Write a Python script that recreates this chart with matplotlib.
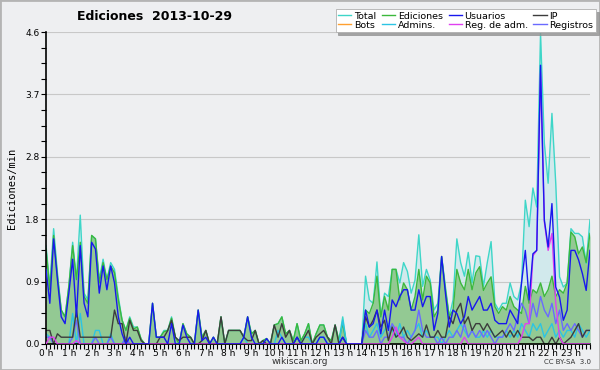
import numpy as np
import matplotlib
matplotlib.use("Agg")
import matplotlib.pyplot as plt
from matplotlib.patches import Rectangle
from matplotlib.ticker import MultipleLocator

# valores cada 10 minutos (ediciones/min), 24 h x 6
total = [
    1.45, 0.85, 1.7, 1.05, 0.5, 0.4,
    0.85, 1.5, 0.95, 1.9, 0.75, 0.65,
    1.6, 1.55, 0.95, 1.25, 0.95, 1.2,
    1.1, 0.7, 0.35, 0.2, 0.4, 0.25,
    0.25, 0.07, 0.0, 0.0, 0.6, 0.1,
    0.1, 0.2, 0.2, 0.4, 0.1, 0.0,
    0.3, 0.15, 0.1, 0.0, 0.5, 0.1,
    0.2, 0.0, 0.1, 0.0, 0.4, 0.0,
    0.2, 0.2, 0.2, 0.2, 0.1, 0.4,
    0.15, 0.2, 0.0, 0.05, 0.08, 0.0,
    0.28, 0.3, 0.4, 0.15, 0.2, 0.05,
    0.3, 0.05, 0.15, 0.3, 0.0, 0.15,
    0.28, 0.28, 0.1, 0.05, 0.28, 0.05,
    0.4, 0.0, 0.0, 0.0, 0.0, 0.0,
    1.0, 0.65, 0.6, 1.21, 0.4, 0.75,
    0.7, 1.1, 1.1, 0.9, 1.2, 1.07,
    0.75, 0.94, 1.61, 0.85, 1.1, 0.94,
    0.5, 0.6, 1.29, 0.85, 0.4, 0.65,
    1.55, 1.2, 1.0, 1.35, 0.9, 1.3,
    1.29, 0.85, 1.2, 1.51, 0.6, 0.5,
    0.6, 0.6, 0.9, 0.7, 0.65, 0.9,
    2.12, 1.73, 2.3, 2.02, 4.58, 2.96,
    2.37, 3.4, 2.37, 0.99, 0.84, 0.9,
    1.7, 1.63, 1.63, 1.58, 1.19, 1.83,
]
ediciones = [
    1.4, 0.8, 1.6, 1.0, 0.5, 0.4,
    0.85, 1.45, 0.95, 1.5, 0.7, 0.6,
    1.6, 1.55, 0.9, 1.2, 0.95, 1.15,
    1.05, 0.65, 0.35, 0.2, 0.38, 0.22,
    0.25, 0.07, 0.0, 0.0, 0.6, 0.1,
    0.1, 0.18, 0.2, 0.38, 0.1, 0.0,
    0.3, 0.15, 0.1, 0.0, 0.5, 0.1,
    0.2, 0.0, 0.1, 0.0, 0.4, 0.0,
    0.2, 0.2, 0.2, 0.2, 0.1, 0.4,
    0.15, 0.2, 0.0, 0.05, 0.08, 0.0,
    0.28, 0.3, 0.4, 0.15, 0.2, 0.05,
    0.3, 0.05, 0.15, 0.3, 0.0, 0.15,
    0.28, 0.28, 0.1, 0.05, 0.28, 0.05,
    0.3, 0.0, 0.0, 0.0, 0.0, 0.0,
    0.5, 0.45, 0.6, 1.0, 0.4, 0.7,
    0.5, 1.1, 1.1, 0.65, 0.9, 0.8,
    0.5, 0.7, 1.1, 0.65, 1.0, 0.9,
    0.4, 0.5, 1.29, 0.8, 0.4, 0.5,
    1.1, 0.9, 0.8, 1.1, 0.8, 1.05,
    1.14, 0.79, 0.9, 0.99, 0.55, 0.45,
    0.55, 0.5, 0.7, 0.55, 0.5, 0.45,
    0.85, 0.6, 0.8, 0.75, 0.9, 0.7,
    0.8, 1.0, 0.7, 0.8, 0.75, 0.9,
    1.65, 1.58, 1.33, 1.43, 1.2, 1.63,
]
usuarios = [
    1.1, 0.6, 1.55, 0.95, 0.4, 0.3,
    0.75, 1.25, 0.4, 1.45, 0.6, 0.4,
    1.5, 1.4, 0.75, 1.15, 0.8, 1.15,
    0.9, 0.4, 0.15, 0.0, 0.1, 0.0,
    0.0, 0.0, 0.0, 0.0, 0.6, 0.1,
    0.1, 0.1, 0.0, 0.3, 0.0, 0.0,
    0.28, 0.1, 0.0, 0.0, 0.5, 0.05,
    0.1, 0.0, 0.1, 0.0, 0.0, 0.0,
    0.0, 0.0, 0.0, 0.0, 0.1, 0.4,
    0.1, 0.0, 0.0, 0.0, 0.08, 0.0,
    0.0, 0.0, 0.1, 0.0, 0.0, 0.0,
    0.1, 0.0, 0.0, 0.0, 0.0, 0.0,
    0.1, 0.1, 0.0, 0.0, 0.0, 0.0,
    0.1, 0.0, 0.0, 0.0, 0.0, 0.0,
    0.5, 0.25, 0.3, 0.5, 0.15, 0.5,
    0.2, 0.65, 0.55, 0.7, 0.8, 0.8,
    0.5, 0.5, 0.8, 0.55, 0.7, 0.7,
    0.2, 0.45, 1.29, 0.75, 0.25, 0.5,
    0.45, 0.3, 0.4, 0.7, 0.5, 0.6,
    0.7, 0.5, 0.5, 0.6, 0.35, 0.3,
    0.3, 0.3, 0.5, 0.4, 0.3, 0.9,
    1.38, 0.65, 1.33, 1.38, 4.11, 1.83,
    1.43, 2.07, 0.84, 0.69, 0.35, 0.5,
    1.38, 1.38, 1.24, 1.04, 0.79, 1.38,
]
ip = [
    0.2, 0.2, 0.0, 0.15, 0.1, 0.1,
    0.1, 0.1, 0.5, 0.1, 0.1, 0.1,
    0.1, 0.1, 0.1, 0.1, 0.1, 0.1,
    0.5, 0.3, 0.3, 0.0, 0.35, 0.2,
    0.2, 0.05, 0.0, 0.0, 0.0, 0.0,
    0.1, 0.1, 0.2, 0.35, 0.1, 0.05,
    0.1, 0.1, 0.1, 0.0, 0.0, 0.05,
    0.2, 0.0, 0.0, 0.0, 0.4, 0.0,
    0.2, 0.2, 0.2, 0.2, 0.1, 0.05,
    0.05, 0.2, 0.0, 0.05, 0.0, 0.0,
    0.28, 0.1, 0.3, 0.1, 0.2, 0.0,
    0.1, 0.0, 0.1, 0.2, 0.0, 0.1,
    0.15, 0.2, 0.1, 0.0, 0.28, 0.0,
    0.1, 0.0, 0.0, 0.0, 0.0, 0.0,
    0.4, 0.25, 0.35, 0.5, 0.25, 0.35,
    0.05, 0.25, 0.1, 0.15, 0.25, 0.1,
    0.05, 0.1, 0.15, 0.1, 0.28, 0.1,
    0.1, 0.2, 0.1, 0.1, 0.4, 0.3,
    0.5, 0.6, 0.3, 0.4, 0.2, 0.3,
    0.3, 0.2, 0.3, 0.2, 0.1, 0.15,
    0.2, 0.1, 0.2, 0.1, 0.2, 0.1,
    0.1, 0.1, 0.05, 0.1, 0.1, 0.0,
    0.0, 0.1, 0.0, 0.1, 0.0, 0.05,
    0.1, 0.2, 0.3, 0.1, 0.2, 0.2,
]
bots = [0.0] * 144
admins = [
    0.15, 0.1, 0.0, 0.0, 0.0, 0.0,
    0.0, 0.45, 0.0, 0.45, 0.0, 0.0,
    0.0, 0.2, 0.2, 0.0, 0.0, 0.15,
    0.0, 0.0, 0.0, 0.1, 0.0, 0.0,
    0.0, 0.0, 0.0, 0.0, 0.0, 0.0,
    0.0, 0.0, 0.0, 0.0, 0.0, 0.0,
    0.0, 0.0, 0.0, 0.0, 0.0, 0.0,
    0.0, 0.0, 0.0, 0.0, 0.0, 0.0,
    0.0, 0.0, 0.0, 0.0, 0.1, 0.0,
    0.0, 0.0, 0.0, 0.0, 0.0, 0.0,
    0.0, 0.2, 0.1, 0.0, 0.0, 0.0,
    0.1, 0.0, 0.1, 0.1, 0.0, 0.0,
    0.1, 0.1, 0.0, 0.0, 0.0, 0.0,
    0.35, 0.0, 0.0, 0.0, 0.0, 0.0,
    0.3, 0.1, 0.2, 0.3, 0.1, 0.2,
    0.3, 0.2, 0.1, 0.3, 0.1, 0.2,
    0.1, 0.2, 0.3, 0.1, 0.2, 0.1,
    0.1, 0.1, 0.0, 0.1, 0.2, 0.1,
    0.2, 0.3, 0.2, 0.1, 0.2, 0.1,
    0.1, 0.2, 0.1, 0.2, 0.1, 0.1,
    0.1, 0.2, 0.1, 0.2, 0.1, 0.3,
    0.2, 0.1, 0.3, 0.2, 0.3, 0.1,
    0.2, 0.3, 0.1, 0.2, 0.1, 0.2,
    0.2, 0.1, 0.3, 0.2, 0.1, 0.2,
]
reg_adm = [
    0.0, 0.1, 0.1, 0.0, 0.0, 0.0,
    0.0, 0.0, 0.05, 0.0, 0.0, 0.0,
] + [0.0] * 78 + [
    0.0, 0.1, 0.25, 0.1, 0.05, 0.0,
    0.0, 0.05, 0.1, 0.0, 0.0, 0.0,
    0.0, 0.0, 0.0, 0.0, 0.0, 0.0,
    0.0, 0.0, 0.1, 0.0, 0.0, 0.0,
    0.0, 0.0, 0.0, 0.0, 0.0, 0.0,
    0.0, 0.0, 0.0, 0.0, 0.0, 0.1,
    0.3, 0.3, 1.3, 1.38, 4.0, 1.8,
    1.38, 1.63, 0.6, 0.1, 0.0, 0.0,
    0.0, 0.0, 0.0, 0.0, 0.0, 0.0,
]
registros = [
    0.1, 0.1, 0.0, 0.0, 0.0, 0.0,
    0.0, 0.1, 0.35, 0.0, 0.0, 0.0,
    0.0, 0.1, 0.0, 0.0, 0.0, 0.1,
    0.0, 0.0, 0.0, 0.1, 0.0, 0.0,
] + [0.0] * 60 + [
    0.2, 0.1, 0.1, 0.2, 0.0, 0.1,
    0.1, 0.3, 0.2, 0.1, 0.1, 0.0,
    0.1, 0.2, 0.5, 0.2, 0.1, 0.1,
    0.1, 0.0, 0.1, 0.0, 0.1, 0.1,
    0.2, 0.1, 0.3, 0.1, 0.2, 0.1,
    0.2, 0.1, 0.2, 0.1, 0.0, 0.1,
    0.1, 0.2, 0.3, 0.2, 0.4, 0.6,
    0.5, 0.3, 0.6, 0.4, 0.7, 0.5,
    0.4, 0.6, 0.3, 0.5, 0.2, 0.3,
    0.2, 0.3, 0.2, 0.1, 0.2, 0.2,
]
hour_labels = [f"{h} h" for h in range(24)]

bg = "#eeeff1"
x = np.arange(len(total))

fig = plt.figure(figsize=(6, 3.7), dpi=100, facecolor=bg)
ax = fig.add_axes([0.0767, 0.0703, 0.9066, 0.8432])
ax.set_facecolor(bg)

ax.fill_between(x, total, color="#bfe6ea", alpha=0.6, lw=0, zorder=1)
ax.fill_between(x, ediciones, color="#93c993", lw=0, zorder=1.1)

series = [
    ("Total", total, "#3ed6c8"),
    ("Bots", bots, "#ffa030"),
    ("Ediciones", ediciones, "#3cb83c"),
    ("Admins.", admins, "#2cc4e4"),
    ("Usuarios", usuarios, "#1818ee"),
    ("Reg. de adm.", reg_adm, "#e040f0"),
    ("IP", ip, "#3c3c3c"),
    ("Registros", registros, "#6a6aff"),
]
draw_order = ["Bots", "Total", "Ediciones", "Admins.", "Registros", "IP", "Reg. de adm.", "Usuarios"]
handles = {}
for name, vals, col in series:
    z = 2 + draw_order.index(name) * 0.1
    (ln,) = ax.plot(x, vals, color=col, lw=1.0, zorder=z)
    handles[name] = ln

yt = np.linspace(0, 4.6, 6)
ax.set_ylim(0, 4.6)
ax.set_xlim(0, len(total) - 1)
ax.set_yticks(yt)
ax.set_yticklabels([f"{v:.1f}" for v in yt], fontsize=6.5)
ax.yaxis.set_minor_locator(MultipleLocator(0.23))
ax.set_xticks(np.arange(0, 144, 6))
ax.set_xticklabels(hour_labels, fontsize=6.5)
ax.xaxis.set_minor_locator(MultipleLocator(1))
ax.tick_params(axis="both", which="both", direction="out", length=3.5, width=0.8, pad=1)
ax.tick_params(axis="x", which="both", pad=0)
ax.grid(axis="y", color="#c8c8c8", lw=0.8, zorder=0)
ax.set_axisbelow(True)
for s in ["top", "right"]:
    ax.spines[s].set_visible(False)
ax.spines["left"].set_linewidth(1.2)
ax.spines["bottom"].set_linewidth(1.2)
ax.set_ylabel("Ediciones/min", fontsize=7.5, family="DejaVu Sans Mono", labelpad=6)

fig.text(0.257, 0.955, "Ediciones  2013-10-29", fontsize=9, fontweight="bold",
         ha="center", va="center")

leg_names = ["Total", "Bots", "Ediciones", "Admins.", "Usuarios", "Reg. de adm.", "IP", "Registros"]
leg = fig.legend([handles[n] for n in leg_names], leg_names, ncol=4, fontsize=6.8,
                 loc="upper right", bbox_to_anchor=(0.993, 0.975), frameon=True,
                 fancybox=False, shadow={"color": "#909090", "alpha": 0.8}, handlelength=1.4,
                 handletextpad=0.3, columnspacing=0.6, labelspacing=0.0, borderpad=0.25,
                 borderaxespad=0.0)
leg.get_frame().set_edgecolor("#b0b0b0")
leg.get_frame().set_linewidth(0.6)
leg.set_zorder(10)

fig.text(0.5, 0.024, "wikiscan.org", fontsize=6.5, ha="center", va="center", color="#333333")
fig.text(0.985, 0.022, "CC BY-SA  3.0", fontsize=5, ha="right", va="center", color="#333333")

fig.patches.append(Rectangle((0, 0), 1, 1, transform=fig.transFigure, fill=False,
                             edgecolor="#b4b4b4", lw=2))

fig.savefig("out.png", dpi=100, facecolor=bg)
